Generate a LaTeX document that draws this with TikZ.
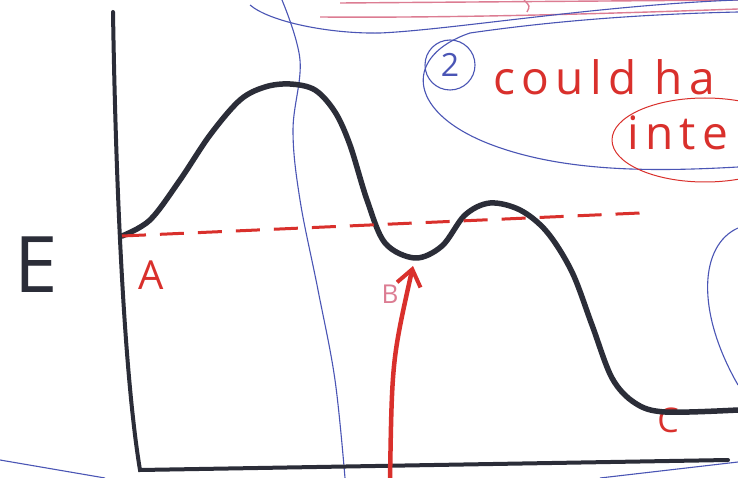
\documentclass[tikz,border=0pt]{standalone}
\usepackage{fontspec}
\setmainfont{Open Sans}
\usetikzlibrary{arrows.meta}
\definecolor{skink}{HTML}{2B2D38}
\definecolor{skred}{HTML}{D9302C}
\definecolor{skblue}{HTML}{4A55B5}
\definecolor{skpink}{HTML}{DC7C92}

\begin{document}
\begin{tikzpicture}[x=1pt, y=-1pt,
  ink/.style={draw=skink, line width=5.5pt, line cap=round, line join=round},
  axis/.style={draw=skink, line width=4pt, line cap=round},
  pen/.style={draw=skblue, line width=1.1pt},
  redpen/.style={draw=skred, line width=1pt},
  pinkpen/.style={draw=skpink, line width=1.4pt},
  level/.style={draw=skred, line width=3pt, dash pattern=on 24pt off 14pt},
  push/.style={-{Straight Barb[length=16pt,width=24pt,line width=4pt]}, draw=skred, line width=4.5pt},
  lbl/.style={text=skred, font=\fontsize{40}{40}\selectfont, inner sep=0pt},
  note/.style={text=skred, font=\fontsize{46}{46}\selectfont\addfontfeature{LetterSpace=14},
               inner sep=0pt, anchor=base west}
]
  \useasboundingbox (0,0) rectangle (738,478);
  \clip (0,0) rectangle (738,478);
  \fill[white] (0,0) rectangle (738,478);

  % notes at the top
  \draw[pinkpen] (340,3) -- (738,0);
  \draw[pinkpen] (524,0) .. controls (530,6) .. (527,12);
  \draw[pinkpen] (320,17) .. controls (450,18) and (600,14) .. (738,9);
  \draw[pen] (250,5) .. controls (270,22) and (330,34) .. (380,33)
    .. controls (450,30) and (600,5) .. (738,0);
  \draw[pen] (470,33) .. controls (560,20) and (650,14) .. (738,12);
  \draw[pen] (470,33) .. controls (405,55) and (405,110) .. (487,143)
    .. controls (560,172) and (650,172) .. (738,167);
  \node[draw=skblue, line width=1.1pt, circle, minimum size=50pt, inner sep=0pt] (two) at (450,65) {};
  \node[text=skblue, font=\fontsize{32}{32}\selectfont] (twotext) at (two) {2};
  \node[note] (could) at (493,95) {could\hspace{18pt}ha};
  \node[note] (inte) at (627,150) {inte};
  \draw[redpen] (705,140) ellipse [x radius=93pt, y radius=42pt];

  % thin blue lines
  \draw[pen] plot[smooth, tension=0.6] coordinates {(282,0) (300,60) (293,130) (300,200) (318,290) (335,380) (345,478)};
  \draw[pen] (738,228) .. controls (700,245) and (695,310) .. (738,385);
  \draw[pen] (0,460) -- (105,478);
  \draw[pen] (600,478) -- (738,462);

  % axes
  \draw[axis] (113,12) .. controls (116,200) and (125,380) .. (140,470) -- (728,460);
  \node[font=\fontsize{78}{78}\selectfont, text=skink, inner sep=0pt] (E) at (36,265) {E};

  % labels under the curve
  \node[lbl] (A) at (151,275) {A};
  \node[lbl, text=skpink, font=\fontsize{26}{26}\selectfont] (B) at (390,294) {B};
  \node[lbl, font=\fontsize{34}{34}\selectfont] (C) at (668,420) {C};

  % energy landscape
  \draw[ink] plot[smooth, tension=0.55] coordinates {(122,236) (150,220) (180,180) (210,135)
    (240,100) (265,87) (290,84) (315,90) (335,112) (350,145) (367,200) (385,243) (415,258)
    (442,246) (465,215) (490,203) (520,210) (547,232) (572,272) (592,325) (612,378)
    (635,403) (665,412) (738,410)};
  \draw[level] (122,236) -- (640,213);

  % push into well B
  \coordinate (foot) at (390,480);
  \coordinate (wellB) at (413,266);
  \draw[push] (foot) .. controls (392,360) .. (wellB);
\end{tikzpicture}
\end{document}
